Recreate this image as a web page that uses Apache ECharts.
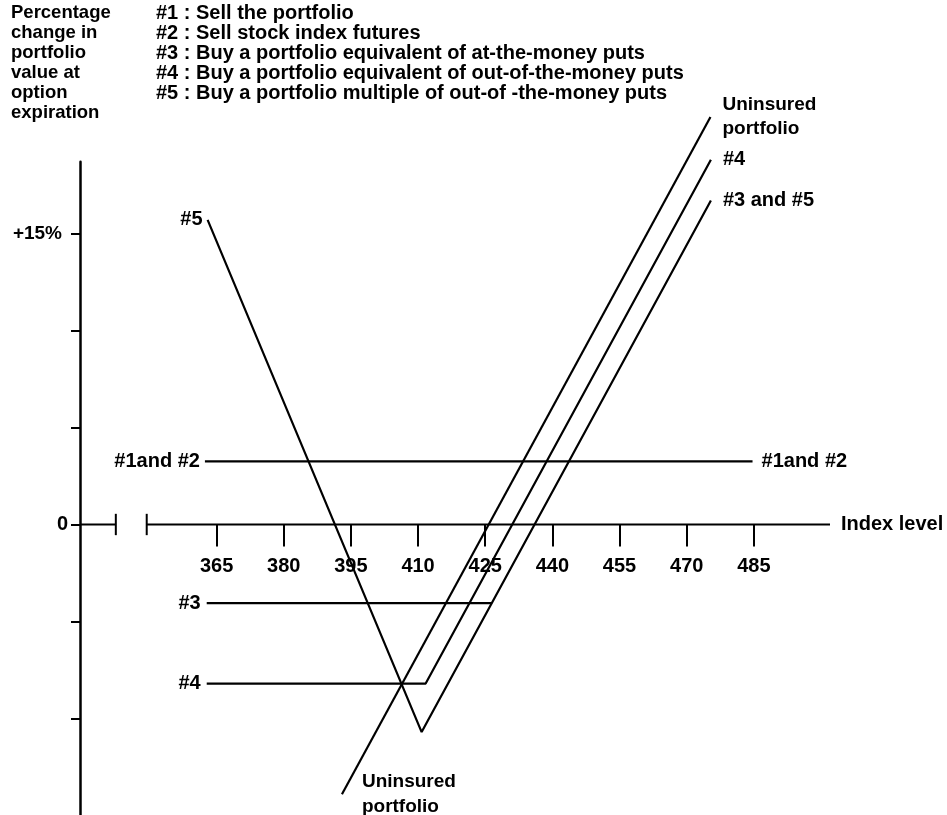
<!DOCTYPE html>
<html>
<head>
<meta charset="utf-8">
<script src="https://cdn.jsdelivr.net/npm/echarts@6/dist/echarts.min.js"></script>
<style>
html,body{margin:0;padding:0;background:#fff;}
#chart{width:947px;height:815px;}
</style>
</head>
<body>
<div id="chart"></div>
<script>
// ---- data (index level, % change) ----
const xTickValues = [365, 380, 395, 410, 425, 440, 455, 470, 485];
const yTickValues = [15, 10, 5, 0, -5, -10];
const yLabelValues = [15, 0];

const uninsuredX = [393.0, 475.3];
const uninsuredY = [-13.9, 21.0];
const s12X = [362.4, 484.7];
const s12Y = [3.25, 3.25];
const s3X = [362.8, 426.5];
const s3Y = [-4.05, -4.05];
const s4X = [362.8, 411.7, 475.4];
const s4Y = [-8.2, -8.2, 18.8];
const s5X = [363.0, 410.8, 475.4];
const s5Y = [15.7, -10.7, 16.7];

const axisBreak = [342.5, 349.4];

const titleLines = ['Percentage', 'change in', 'portfolio', 'value at', 'option', 'expiration'];
const keyLines = [
  '#1 : Sell the portfolio',
  '#2 : Sell stock index futures',
  '#3 : Buy a portfolio equivalent of at-the-money puts',
  '#4 : Buy a portfolio equivalent of out-of-the-money puts',
  '#5 : Buy a portfolio multiple of out-of -the-money puts'
];

// ---- layout / style ----
const FONT = '"Liberation Sans", Arial, sans-serif';
const FS = 20;
const INK = '#000';
const X_MIN = 334.5, X_MAX = 502;
const Y_MIN = -15, Y_MAX = 18.7;
const GRID_TOP = 161.7, GRID_H = 653.8;
// place the x axis on the zero line via offset (distance from grid bottom to y=0)
const ZERO_OFFSET = -GRID_H * (0 - Y_MIN) / (Y_MAX - Y_MIN);

function pts(xs, ys, labels) {
  return xs.map((x, i) => {
    const item = { value: [x, ys[i]] };
    if (labels && labels[i]) item.label = Object.assign({ show: true, fontFamily: FONT, fontSize: FS, fontWeight: 'bold', color: INK }, labels[i]);
    return item;
  });
}

function lineSeries(data, width) {
  return {
    type: 'line', data: data, symbol: 'circle', symbolSize: 0, showSymbol: true,
    clip: false, silent: true,
    itemStyle: { color: INK },
    lineStyle: { color: INK, width: width || 2.2 }, animation: false,
    label: { show: false }
  };
}

const series = [
  lineSeries(pts(uninsuredX, uninsuredY, {
    0: { formatter: 'Uninsured\nportfolio', position: 'right', distance: 20, lineHeight: 25, align: 'left', fontSize: 19 },
    1: { formatter: 'Uninsured\nportfolio', position: 'right', distance: 12, lineHeight: 24, align: 'left', fontSize: 19 }
  })),
  lineSeries(pts(s12X, s12Y, {
    0: { formatter: '#1and #2', position: 'left', distance: 5 },
    1: { formatter: '#1and #2', position: 'right', distance: 9 }
  })),
  lineSeries(pts(s3X, s3Y, {
    0: { formatter: '#3', position: 'left', distance: 6 }
  })),
  lineSeries(pts(s4X, s4Y, {
    0: { formatter: '#4', position: 'left', distance: 6 },
    2: { formatter: '#4', position: 'right', distance: 12 }
  })),
  lineSeries(pts(s5X, s5Y, {
    0: { formatter: '#5', position: 'left', distance: 5 },
    2: { formatter: '#3 and #5', position: 'right', distance: 12 }
  })),
  // x-axis line with break marks
  lineSeries(pts([X_MIN, axisBreak[0]], [0, 0]), 2),
  lineSeries(pts([axisBreak[1], X_MAX], [0, 0]), 2),
  lineSeries(pts([axisBreak[0], axisBreak[0]], [-0.55, 0.55]), 2),
  lineSeries(pts([axisBreak[1], axisBreak[1]], [-0.55, 0.55]), 2)
];

const chart = echarts.init(document.getElementById('chart'), null, { renderer: 'canvas' });
chart.setOption({
  backgroundColor: '#fff',
  animation: false,
  grid: { left: 80, width: 750, top: GRID_TOP, height: GRID_H, containLabel: false, outerBoundsMode: 'none' },
  xAxis: {
    type: 'value', min: X_MIN, max: X_MAX, position: 'bottom', offset: ZERO_OFFSET,
    name: 'Index level', nameLocation: 'end', nameGap: 11,
    nameTextStyle: { fontFamily: FONT, fontSize: FS, fontWeight: 'bold', color: INK, verticalAlign: 'middle' },
    axisLine: { show: false, onZero: false },
    axisTick: { show: true, length: 22, customValues: xTickValues, lineStyle: { color: INK, width: 2 } },
    axisLabel: { show: true, customValues: xTickValues, margin: 32, fontFamily: FONT, fontSize: FS, fontWeight: 'bold', color: INK },
    splitLine: { show: false }
  },
  yAxis: {
    type: 'value', min: Y_MIN, max: Y_MAX,
    axisLine: { show: true, onZero: false, lineStyle: { color: INK, width: 2.5 } },
    axisTick: { show: true, length: 9, customValues: yTickValues, lineStyle: { color: INK, width: 2 } },
    axisLabel: {
      show: true, customValues: yLabelValues, margin: 12,
      fontFamily: FONT, fontSize: FS, fontWeight: 'bold', color: INK,
      formatter: v => v === 15 ? '{p|+15%}' : '0',
      rich: { p: { fontFamily: FONT, fontSize: 19, fontWeight: 'bold', color: INK, padding: [0, 6, 0, 0] } }
    },
    splitLine: { show: false }
  },
  graphic: [
    { type: 'text', left: 11, top: 3, silent: true,
      style: { text: titleLines.join('\n'), font: 'bold 18.5px ' + FONT, lineHeight: 20, fill: INK } },
    { type: 'text', left: 156, top: 3, silent: true,
      style: { text: keyLines.join('\n'), font: 'bold 20px ' + FONT, lineHeight: 20, fill: INK } }
  ],
  series: series
});
</script>
</body>
</html>
